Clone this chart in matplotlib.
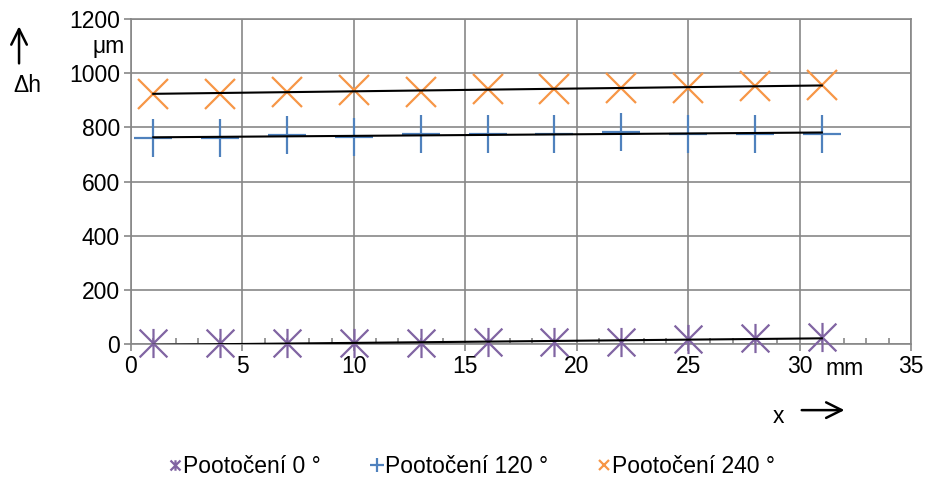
import numpy as np
import matplotlib
matplotlib.use("Agg")
import matplotlib.pyplot as plt
from matplotlib.path import Path
from matplotlib.patches import FancyArrowPatch
from matplotlib.ticker import MultipleLocator

plt.rcParams['font.family'] = ['Liberation Sans', 'DejaVu Sans']

# data
x = [1, 4, 7, 10, 13, 16, 19, 22, 25, 28, 31]
rot0 = [2, 2, 2, 2, 3, 6, 6, 8, 18, 21, 27]
rot120 = [760, 759, 771, 765, 777, 777, 776, 783, 775, 776, 776]
rot240 = [925, 925, 931, 937, 931, 942, 943, 945, 946, 953, 956]
labels = ["Pootočení 0 °", "Pootočení 120 °", "Pootočení 240 °"]
colors = ["#8064A2", "#4F81BD", "#F79646"]

# excel style asterisk: x with a vertical bar
star = Path([(-1, -1), (1, 1), (-1, 1), (1, -1), (0, -1.05), (0, 1.05)],
            [Path.MOVETO, Path.LINETO, Path.MOVETO, Path.LINETO, Path.MOVETO, Path.LINETO])
markers = [star, "+", "x"]
sizes = [21, 28, 21]

fig = plt.figure(figsize=(9.29, 4.90), dpi=100)
ax = fig.add_axes([0.141, 0.298, 0.8396, 0.663])

for ys, lab, c, m, s in zip([rot0, rot120, rot240], labels, colors, markers, sizes):
    ax.plot(x, ys, linestyle="none", marker=m, markersize=s, markeredgewidth=1.6,
            color=c, markerfacecolor="none", label=lab, zorder=3, clip_on=False)
    k, q = np.polyfit(x, ys, 1)
    ax.plot([x[0], x[-1]], [k * x[0] + q, k * x[-1] + q], color="black", lw=1.5, zorder=4)

ax.set_xlim(0, 35)
ax.set_ylim(0, 1200)
ax.xaxis.set_major_locator(MultipleLocator(5))
ax.xaxis.set_minor_locator(MultipleLocator(1))
ax.yaxis.set_major_locator(MultipleLocator(200))
ax.grid(True, which="major", color="#878787", lw=1.2)
ax.set_axisbelow(True)
for sp in ax.spines.values():
    sp.set_color("#878787")
    sp.set_linewidth(1.2)
ax.tick_params(which="major", length=5, color="#878787", width=1.2, labelsize=16.5, pad=3)
ax.tick_params(which="minor", axis="x", direction="in", length=4, color="#878787", width=1.2)

# axis annotations
fig.text(0.117, 0.906, "μm", fontsize=16.5, ha="center", va="center")
fig.text(0.029, 0.826, "Δh", fontsize=16.5, ha="center", va="center")
fig.patches.append(FancyArrowPatch((0.0205, 0.865), (0.0205, 0.952), transform=fig.transFigure,
                                   arrowstyle="->", mutation_scale=28, lw=1.8, color="black"))
fig.text(0.909, 0.247, "mm", fontsize=16.5, ha="center", va="center")
fig.text(0.838, 0.150, "x", fontsize=16.5, ha="center", va="center")
fig.patches.append(FancyArrowPatch((0.860, 0.163), (0.912, 0.163), transform=fig.transFigure,
                                   arrowstyle="->", mutation_scale=28, lw=1.8, color="black"))

fig.legend(loc="center", bbox_to_anchor=(0.508, 0.047), ncol=3, frameon=False, fontsize=16.5,
           markerscale=0.36, handlelength=0.5, handletextpad=0.1, columnspacing=2.2)

fig.savefig("out.png", dpi=100)
